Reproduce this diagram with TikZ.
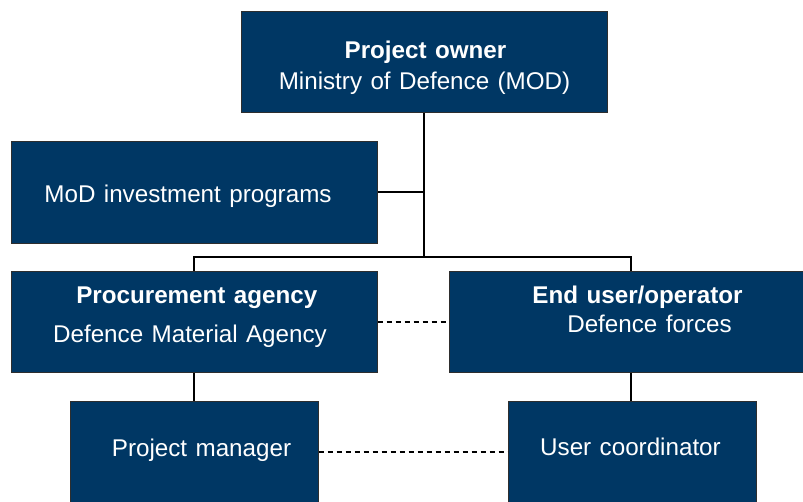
\documentclass[tikz,border=0pt]{standalone}
\usepackage{fontspec}
\setmainfont[WordSpace={1.25}]{Liberation Sans}
\definecolor{navy}{HTML}{003764}
\definecolor{edge}{HTML}{2E2E2E}
\begin{document}
\begin{tikzpicture}[x=1pt,y=-1pt,
  box/.style={draw=edge,line width=1pt,fill=navy,rectangle,inner sep=0pt},
  txt/.style={text=white,font=\fontsize{24.2}{28}\selectfont,inner sep=0pt,anchor=base},
  btxt/.style={txt,font=\fontsize{24.2}{28}\selectfont\bfseries},
  link/.style={draw=black,line width=1.4pt},
  dlink/.style={draw=black,line width=2pt,dash pattern=on 5.5pt off 3.5pt}]
\useasboundingbox (0,0) rectangle (803,501);
\clip (0,0) rectangle (803,501);
% boxes
\node[box,minimum width=366pt,minimum height=101pt] (po) at (424,61.5) {};
\node[box,minimum width=366pt,minimum height=102pt] (mod) at (194,192) {};
\node[box,minimum width=366pt,minimum height=101pt] (pa) at (194,321.5) {};
\node[box,minimum width=364pt,minimum height=101pt] (eu) at (631,321.5) {};
\node[box,minimum width=248pt,minimum height=101pt] (pm) at (194,451.5) {};
\node[box,minimum width=248pt,minimum height=101pt] (uc) at (632,451.5) {};
% texts
\node[btxt] (t1) at (425.5,58) {Project owner};
\node[txt] (t2) at (424.5,89) {Ministry of Defence (MOD)};
\node[txt] (t3) at (188,202.7) {MoD investment programs};
\node[btxt] (t4) at (196.8,303.3) {Procurement agency};
\node[txt] (t5) at (190,342) {Defence Material Agency};
\node[btxt] (t6) at (637.5,303.3) {End user/operator};
\node[txt] (t7) at (649.5,332.7) {Defence forces};
\node[txt] (t8) at (201.5,456) {Project manager};
\node[txt] (t9) at (630.5,455) {User coordinator};
% connectors
\coordinate (j) at (424,257);
\draw[link] (po.south) -- (j);
\draw[link] (mod.east) -- (mod.east -| po.south);
\draw[link] (pa.north) |- (j) -| (eu.north);
\draw[link] (pa.south) -- (pm.north);
\draw[link] (eu.south) -- (eu.south |- uc.north);
\draw[dlink] (pa.east) -- (eu.west);
\draw[dlink] (pm.east) -- (uc.west);
\end{tikzpicture}
\end{document}
